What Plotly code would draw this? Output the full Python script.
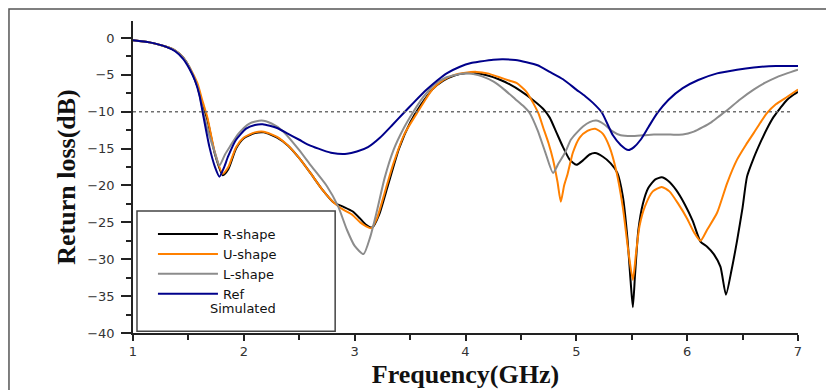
import plotly.graph_objects as go

# ---------------- data ----------------
r_freq = [1.0, 1.15, 1.3, 1.38, 1.45, 1.51, 1.58, 1.63, 1.67, 1.74, 1.81, 1.86, 1.93, 2.0, 2.1, 2.18,
          2.3, 2.4, 2.5, 2.6, 2.71, 2.81, 2.9, 2.98, 3.05, 3.1, 3.16, 3.22, 3.3, 3.4, 3.5, 3.6, 3.7,
          3.8, 3.9, 4.0, 4.1, 4.2, 4.3, 4.4, 4.5, 4.6, 4.7, 4.76, 4.82, 4.88, 4.94, 5.0, 5.06, 5.12,
          5.17, 5.24, 5.31, 5.37, 5.42, 5.46, 5.49, 5.51, 5.53, 5.56, 5.6, 5.65, 5.71, 5.77, 5.83,
          5.9, 5.98, 6.05, 6.12, 6.18, 6.24, 6.3, 6.35, 6.4, 6.45, 6.5, 6.54, 6.6, 6.66, 6.72, 6.78,
          6.84, 6.9, 6.95, 7.0]
r_db = [-0.3, -0.6, -1.2, -1.7, -2.6, -4.0, -6.5, -9.3, -11.0, -15.8, -18.6, -17.8, -15.0, -13.6, -12.9, -12.8,
        -13.5, -14.6, -16.3, -18.3, -20.6, -22.3, -22.9, -23.5, -24.5, -25.3, -25.7, -24.0, -20.0, -15.0, -11.5, -9.0, -7.0,
        -5.8, -5.1, -4.8, -4.8, -5.1, -5.6, -6.3, -7.2, -8.3, -9.6, -10.8, -12.8, -14.8, -16.5, -17.2, -16.6, -15.8,
        -15.6, -16.1, -17.0, -18.3, -21.5, -27.0, -33.0, -36.5, -32.0, -26.0, -22.5, -20.3, -19.2, -18.9, -19.4,
        -20.6, -22.6, -24.8, -27.6, -28.3, -29.3, -31.0, -34.8, -31.5, -27.5, -23.0, -18.8, -16.3, -14.2, -12.3, -10.7,
        -9.5, -8.4, -7.8, -7.3]

u_freq = [1.0, 1.15, 1.3, 1.38, 1.45, 1.51, 1.58, 1.63, 1.67, 1.74, 1.81, 1.86, 1.93, 2.0, 2.1, 2.18,
          2.3, 2.4, 2.5, 2.6, 2.71, 2.81, 2.9, 2.98, 3.05, 3.1, 3.15, 3.2, 3.28, 3.35, 3.45, 3.57, 3.7,
          3.8, 3.9, 4.0, 4.1, 4.2, 4.3, 4.4, 4.46, 4.55, 4.61, 4.66, 4.7, 4.75, 4.79, 4.83, 4.86, 4.89,
          4.92, 4.97, 5.03, 5.1, 5.17, 5.24, 5.3, 5.36, 5.42, 5.47, 5.51, 5.54, 5.57, 5.62, 5.69, 5.77,
          5.84, 5.92, 6.0, 6.06, 6.12, 6.18, 6.27, 6.36, 6.45, 6.53, 6.6, 6.66, 6.72, 6.8, 6.9, 7.0]
u_db = [-0.3, -0.6, -1.2, -1.7, -2.6, -4.0, -6.1, -8.7, -10.7, -15.6, -18.4, -17.5, -14.8, -13.5, -12.8, -12.7,
        -13.4, -14.6, -16.3, -18.3, -20.6, -22.3, -23.3, -24.0, -25.0, -25.5, -25.8, -24.5, -20.5, -17.0, -13.0, -10.0, -7.0,
        -5.7, -5.0, -4.7, -4.6, -4.8, -5.3, -5.8, -6.1, -7.3, -8.8, -10.3, -12.1, -14.3, -16.5, -19.5, -22.2, -20.0,
        -18.5, -15.5, -13.5, -12.6, -12.3, -13.0, -14.8, -18.0, -23.0, -29.0, -32.8, -29.0, -25.5, -22.8, -20.8, -20.2,
        -20.8, -22.5, -24.5, -26.3, -27.5, -26.0, -23.7, -19.7, -16.5, -14.5, -12.9, -11.5, -10.2, -9.0, -8.0, -7.0]

l_freq = [1.0, 1.15, 1.3, 1.38, 1.45, 1.51, 1.58, 1.63, 1.68, 1.74, 1.78, 1.83, 1.88, 1.95, 2.05, 2.16,
          2.25, 2.35, 2.5, 2.6, 2.75, 2.85, 2.93, 3.0, 3.08, 3.14, 3.2, 3.27, 3.35, 3.44, 3.53, 3.62,
          3.72, 3.82, 3.92, 4.0, 4.07, 4.15, 4.25, 4.35, 4.45, 4.52, 4.58, 4.65, 4.72, 4.79, 4.84, 4.9,
          4.95, 5.0, 5.06, 5.12, 5.18, 5.25, 5.32, 5.4, 5.5, 5.6, 5.7, 5.85, 5.96, 6.06, 6.14, 6.22,
          6.29, 6.36, 6.48, 6.6, 6.7, 6.81, 6.9, 7.0]
l_db = [-0.3, -0.6, -1.2, -1.7, -2.6, -4.0, -6.5, -9.8, -12.8, -15.6, -17.3, -15.8, -14.6, -13.0, -11.6, -11.2,
        -11.6, -12.6, -15.2, -17.2, -20.1, -22.8, -26.0, -28.2, -29.3, -27.0, -23.5, -19.0, -15.2, -12.3, -10.0, -8.0,
        -6.3, -5.4, -5.0, -4.8, -4.9, -5.2, -5.9, -7.0, -8.3, -9.2, -10.2, -12.5, -15.5, -18.3, -17.0, -15.5,
        -13.8, -12.9, -12.0, -11.4, -11.2, -11.7, -12.6, -13.2, -13.3, -13.2, -13.1, -13.1, -13.1, -12.7, -12.1, -11.4,
        -10.6, -9.8, -8.3, -7.0, -6.1, -5.3, -4.8, -4.3]

ref_freq = [1.0, 1.15, 1.3, 1.38, 1.45, 1.51, 1.56, 1.6, 1.63, 1.69, 1.74, 1.78, 1.82, 1.86, 1.93, 2.02,
            2.1, 2.17, 2.3, 2.4, 2.5, 2.6, 2.71, 2.8, 2.93, 3.02, 3.12, 3.23, 3.34, 3.44, 3.53, 3.65,
            3.75, 3.83, 3.95, 4.05, 4.13, 4.25, 4.34, 4.45, 4.55, 4.65, 4.76, 4.88, 5.0, 5.08, 5.15, 5.23,
            5.33, 5.4, 5.47, 5.52, 5.58, 5.65, 5.73, 5.83, 5.96, 6.1, 6.27, 6.45, 6.6, 6.8, 7.0]
ref_db = [-0.3, -0.6, -1.2, -1.8, -2.8, -4.2, -5.8, -7.8, -10.2, -14.8, -17.5, -18.8, -17.6, -16.0, -13.8, -12.3,
          -11.8, -11.7, -12.2, -13.0, -13.8, -14.6, -15.2, -15.6, -15.7, -15.4, -14.8, -13.5, -11.8, -10.2, -8.8, -7.0,
          -5.7, -4.8, -3.9, -3.4, -3.2, -2.95, -2.9, -3.0, -3.3, -3.7, -4.6, -5.6, -7.0, -7.9, -8.8, -10.1,
          -13.2, -14.5, -15.2, -14.8, -13.8, -12.1, -10.2, -8.4, -6.8, -5.7, -4.8, -4.3, -4.0, -3.8, -3.8]

series_names = ["R-shape", "U-shape", "L-shape", "Ref"]
series_freq = [r_freq, u_freq, l_freq, ref_freq]
series_db = [r_db, u_db, l_db, ref_db]
series_colors = ["#000000", "#FF8000", "#8C8C8C", "#00008B"]

threshold_db = -10
x_ticks = [1, 2, 3, 4, 5, 6, 7]
y_ticks = [0, -5, -10, -15, -20, -25, -30, -35, -40]

# ---------------- figure ----------------
fig = go.Figure()
for name, fx, fy, col in zip(series_names, series_freq, series_db, series_colors):
    fig.add_trace(go.Scatter(x=fx, y=fy, mode="lines", name=name,
                             line=dict(color=col, width=2, shape="spline", smoothing=0.6)))

sans = "DejaVu Sans, Liberation Sans, Arial, sans-serif"
serif = "Liberation Serif, Times New Roman, serif"

# the page adds an 8px body margin, so the figure is 826x382
fig.update_layout(
    width=826, height=382,
    margin=dict(l=125, r=36, t=13, b=57, autoexpand=False),
    paper_bgcolor="white", plot_bgcolor="white",
    showlegend=True,
    legend=dict(x=0.03, y=0.365, xanchor="left", yanchor="top",
                bgcolor="rgba(0,0,0,0)", borderwidth=0,
                font=dict(family=sans, size=13, color="#111111"),
                itemwidth=60, tracegroupgap=0),
    xaxis=dict(range=[1, 7], tickvals=x_ticks, ticks="outside", ticklen=6, tickwidth=1.5,
               tickcolor="#222222", showline=True, linecolor="#222222", linewidth=1.5,
               showgrid=False, zeroline=False, automargin=False,
               minor=dict(dtick=0.5, ticks="outside", ticklen=5, tickwidth=1.5, tickcolor="#222222", showgrid=False),
               tickfont=dict(family=sans, size=13, color="#333333"),
               title=dict(text="Frequency(GHz)", standoff=6,
                          font=dict(family=serif, size=26, color="#111111", weight="bold"))),
    yaxis=dict(range=[-40, 2.3], tickvals=y_ticks, ticks="outside", ticklen=10, tickwidth=1.5,
               tickcolor="#222222", showline=True, linecolor="#222222", linewidth=1.5,
               showgrid=False, zeroline=False, ticklabelstandoff=4, automargin=False,
               minor=dict(dtick=2.5, ticks="outside", ticklen=5, tickwidth=1.5, tickcolor="#222222", showgrid=False),
               tickfont=dict(family=sans, size=13, color="#333333"),
               title=dict(text="Return loss(dB)", standoff=4,
                          font=dict(family=serif, size=26, color="#111111", weight="bold"))),
)

# -10 dB reference line
fig.add_shape(type="line", xref="x", yref="y", x0=1, x1=6.93, y0=threshold_db, y1=threshold_db,
              line=dict(color="#707070", width=1.5, dash="3px,3px"))

# legend frame and caption
fig.add_shape(type="rect", xref="paper", yref="paper", x0=0.006, x1=0.304, y0=0.006, y1=0.391,
              line=dict(color="#444444", width=1.5))
fig.add_annotation(xref="paper", yref="paper", x=0.165, y=0.077, xanchor="center", yanchor="middle",
                   text="Simulated", showarrow=False,
                   font=dict(family=sans, size=13, color="#111111"))

# outer frame
fig.add_shape(type="rect", xref="paper", yref="paper", x0=-0.1865, x1=1.2, y0=-0.4, y1=1.0385,
              line=dict(color="#555555", width=1.5))

fig.write_html("out.html")
